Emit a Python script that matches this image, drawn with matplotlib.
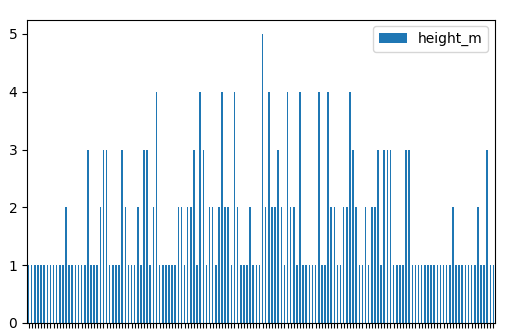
import matplotlib
matplotlib.use('Agg')
import matplotlib.pyplot as plt
import pandas as pd

# one value per bar (150 bars)
height_m = [1,1,1,1,1,1,1,1,1,1,1,1,2,1,1,1,1,1,1,3,
            1,1,1,2,3,3,1,1,1,1,3,2,1,1,1,2,1,3,3,1,
            2,4,1,1,1,1,1,1,2,2,1,2,2,3,1,4,3,1,2,2,
            1,2,4,2,2,1,4,2,1,1,1,2,1,1,1,5,2,4,2,2,
            3,2,1,4,2,2,1,4,1,1,1,1,1,4,1,1,4,2,2,1,
            1,2,2,4,3,2,1,1,2,1,2,2,3,1,3,3,3,1,1,1,
            1,3,3,1,1,1,1,1,1,1,1,1,1,1,1,1,2,1,1,1,
            1,1,1,1,2,1,1,3,1,1]

df = pd.DataFrame({'height_m': height_m})

fig = plt.figure(figsize=(5.08, 3.33), dpi=100)
ax = fig.add_axes([27/508, 10/333, 468/508, 303.5/333])
df.plot(kind='bar', ax=ax)
ax.set_xticklabels([''] * len(height_m))
ax.legend(loc='upper right')

fig.savefig('out.png', dpi=100)
